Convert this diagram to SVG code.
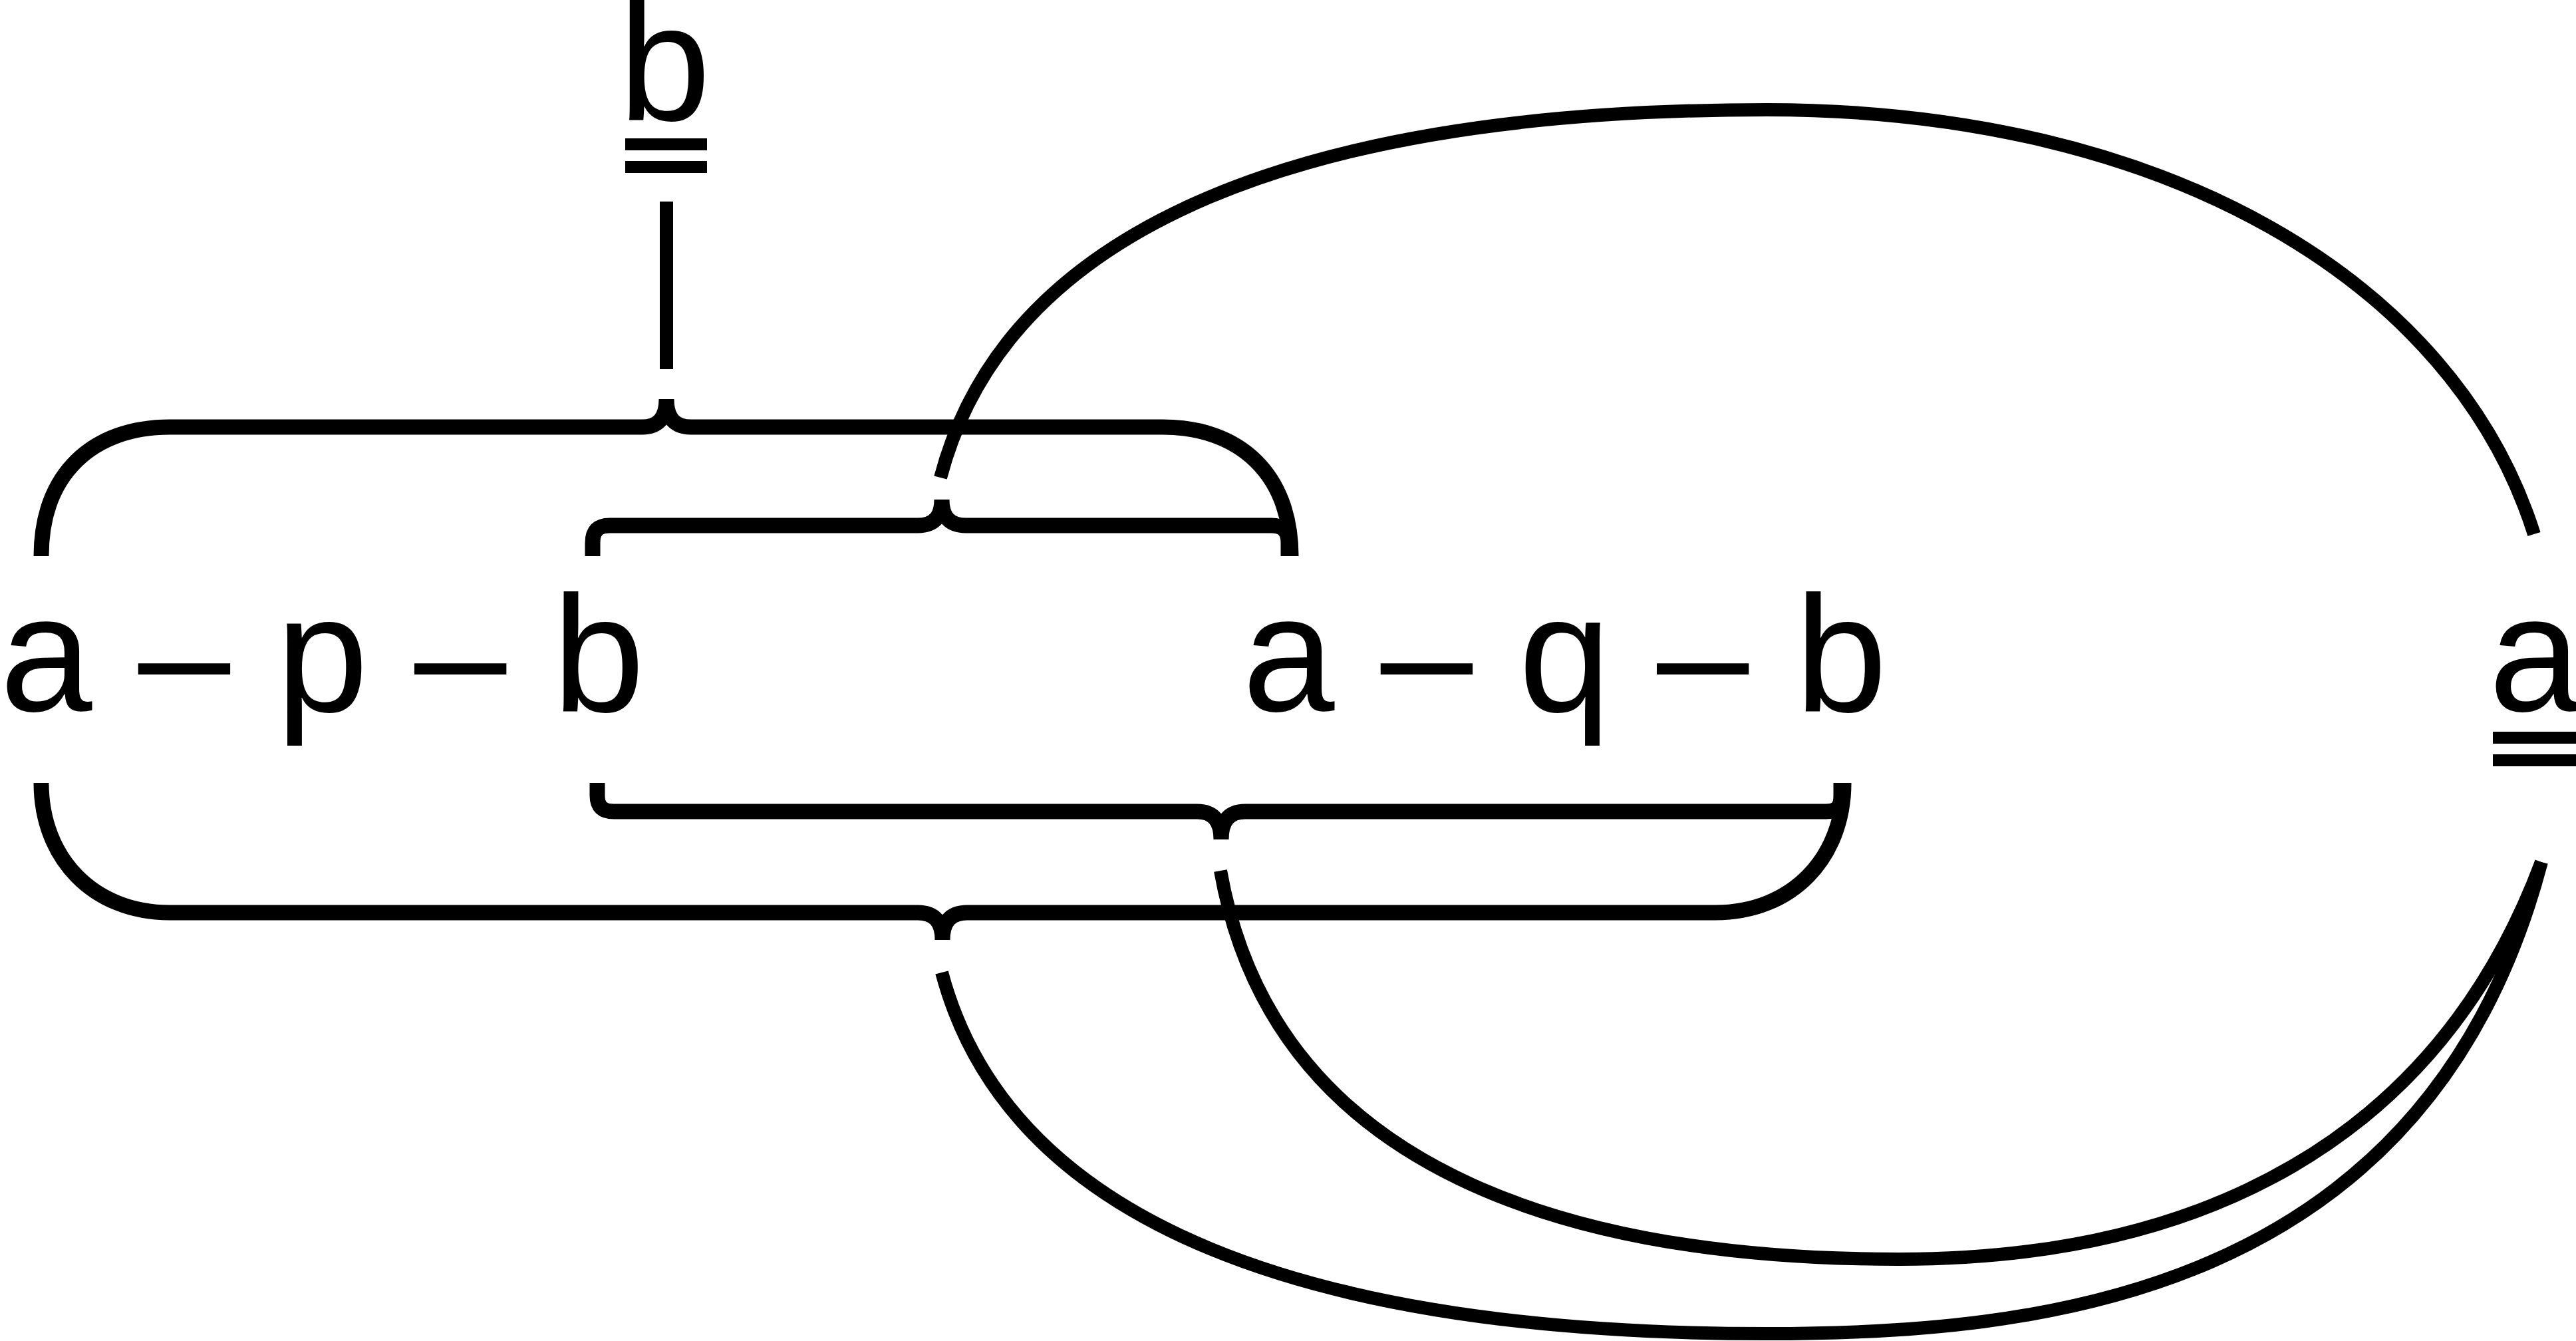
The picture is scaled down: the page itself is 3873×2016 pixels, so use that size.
<svg xmlns="http://www.w3.org/2000/svg" width="3873" height="2016" viewBox="0 0 3873 2016">
<style>
  .t { font-family: "Liberation Sans", Arial, sans-serif; font-size: 249px; fill: #000; }
  .brace { fill: none; stroke: #000; stroke-width: 23; stroke-linejoin: bevel; }
  .link { fill: none; stroke: #000; stroke-width: 20; }
  .bar { fill: #000; }
</style>
<rect width="3873" height="2016" fill="#fff"/>
<g id="node-b-top">
  <text class="t" x="930" y="180">b</text>
  <rect class="bar" x="940" y="208" width="123" height="18"/>
  <rect class="bar" x="940" y="242" width="123" height="18"/>
</g>
<g id="node-apb">
  <text class="t" x="0" y="1069">a – p – b</text>
</g>
<g id="node-aqb">
  <text class="t" x="1868" y="1069">a – q – b</text>
</g>
<g id="node-a-right">
  <text class="t" x="3742" y="1069">a</text>
  <rect class="bar" x="3748" y="1100" width="125" height="18"/>
  <rect class="bar" x="3748" y="1134" width="125" height="18"/>
</g>
<g id="connectors">
  <line class="link" x1="1002" y1="303" x2="1002" y2="555"/>
  <path class="brace" d="M 62,836 C 62,712 140,642 255,642 L 965,642 C 990,642 1002,628 1002,600 C 1002,628 1014,642 1039,642 L 1748,642 C 1863,642 1941,712 1941,836"/>
  <path class="brace" d="M 891,836 L 891,816 C 891,798 899,790 917,790 L 1380,790 C 1404,790 1416,777 1416,751 C 1416,777 1428,790 1452,790 L 1911,790 C 1929,790 1937,798 1937,816 L 1937,836"/>
  <path class="brace" d="M 62,1177 C 62,1290 140,1372 255,1372 L 1380,1372 C 1405,1372 1417,1386 1417,1413 C 1417,1386 1429,1372 1454,1372 L 2579,1372 C 2694,1372 2772,1290 2772,1177"/>
  <path class="brace" d="M 898,1177 L 898,1196 C 898,1213 906,1220 923,1220 L 1800,1220 C 1824,1220 1836,1234 1836,1262 C 1836,1234 1848,1220 1872,1220 L 2745,1220 C 2762,1220 2768,1213 2768,1196 L 2768,1177"/>
  <path class="link" d="M 1414,718 C 1516,331 1976,165 2656,165 C 3256,165 3690,423 3810,803"/>
  <path class="link" d="M 1416,1462 C 1518,1845 1976,2005 2656,2005 C 3056,2005 3648,1954 3821,1296"/>
  <path class="link" d="M 1835,1309 C 1920,1790 2420,1893 2855,1893 C 3305,1893 3663,1718 3821,1296"/>
</g>
</svg>
